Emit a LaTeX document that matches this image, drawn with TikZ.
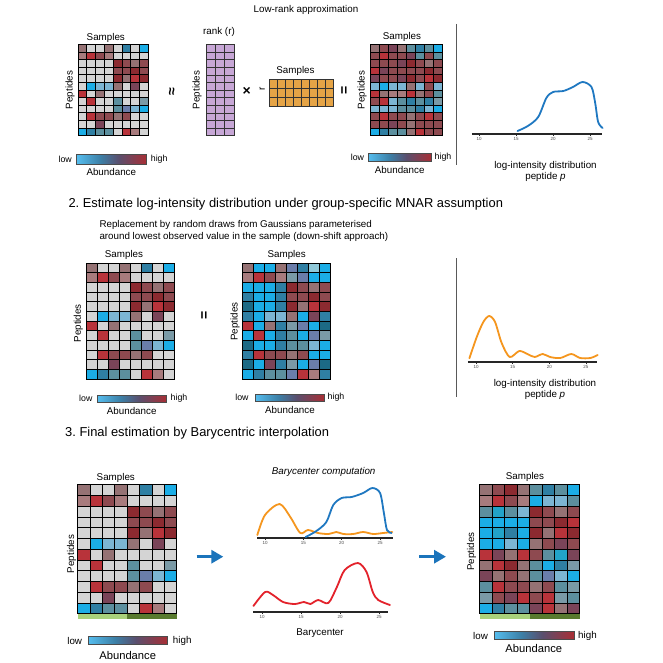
\documentclass[tikz,border=0pt]{standalone}
\usepackage{fontspec}
\setmainfont{Liberation Sans}
\usepackage{amsmath}
\usetikzlibrary{arrows.meta}
\frenchspacing

\definecolor{hmg}{HTML}{D4D4D4}
\definecolor{hma}{HTML}{957274}
\definecolor{hmb}{HTML}{A87B7D}
\definecolor{hmr}{HTML}{B8333A}
\definecolor{hmd}{HTML}{8C2A30}
\definecolor{hmm}{HTML}{8E4A50}
\definecolor{hmp}{HTML}{7A4458}
\definecolor{hmS}{HTML}{2F7FA3}
\definecolor{hmB}{HTML}{1BADE6}
\definecolor{hmL}{HTML}{7CB5D3}
\definecolor{hmT}{HTML}{5C8F9E}
\definecolor{hmG}{HTML}{7A9AA6}
\definecolor{hmV}{HTML}{6A7DAA}
\definecolor{hmD}{HTML}{1C6A85}
\definecolor{hmC}{HTML}{22A3C8}
\definecolor{hmK}{HTML}{8FC8D8}
\definecolor{rankfill}{HTML}{C7A7D6}
\definecolor{ordfill}{HTML}{E6A446}
\definecolor{curveblue}{HTML}{1F78C1}
\definecolor{curveorange}{HTML}{F5961E}
\definecolor{curvered}{HTML}{E3222B}
\definecolor{arrowblue}{HTML}{1B74BB}
\definecolor{grplight}{HTML}{A9D17B}
\definecolor{grpdark}{HTML}{587A2E}
\definecolor{cbA}{HTML}{55BDEE}
\definecolor{cbB}{HTML}{3C7FA6}
\definecolor{cbC}{HTML}{5A4F6E}
\definecolor{cbD}{HTML}{A92E34}

\pgfdeclarehorizontalshading{abundance}{100bp}{color(0bp)=(cbA); color(25bp)=(cbA); color(42bp)=(cbB); color(55bp)=(cbC); color(75bp)=(cbD); color(100bp)=(cbD)}

\newcommand{\hmap}[5]{%
    \foreach \row [count=\i] in {#5}
        \foreach \c [count=\j] in \row
            \filldraw[hmcell, fill=hm\c] ({#1+(\j-1)*#3}, {#2+(\i-1)*#4}) rectangle ++(#3, #4);%
}
\newcommand{\abar}[4]{%
    \shade[shading=abundance] (#1, #2) rectangle ++(#3, #4);
    \draw[cbframe] (#1, #2) rectangle ++(#3, #4);%
}

\tikzset{
    hmcell/.style={draw=black, line width=0.9pt},
    rankcell/.style={fill=rankfill, draw=black!80, line width=0.7pt},
    ordcell/.style={fill=ordfill, draw=black!80, line width=0.7pt},
    cbframe/.style={draw=black!70, line width=0.5pt},
    lbl/.style={font=\fontsize{9.8}{11}\selectfont, inner sep=0pt},
    lblbig/.style={font=\fontsize{11.2}{13}\selectfont, inner sep=0pt},
    lblsm/.style={font=\fontsize{8.8}{10}\selectfont, inner sep=0pt},
    opsym/.style={font=\fontsize{14}{16}\selectfont\bfseries, inner sep=0pt},
    head/.style={font=\fontsize{12.9}{15}\selectfont, inner sep=0pt, anchor=west},
    ticklab/.style={font=\fontsize{4.5}{5}\selectfont, text=black!70, inner sep=1pt},
    axisline/.style={draw=black!85, line width=1.1pt},
    sepline/.style={draw=black!65, line width=0.9pt},
    curve/.style={line width=1.8pt, line join=round, line cap=round},
    bigarrow/.style={draw=arrowblue, line width=3pt, -{Triangle[length=12pt, width=13pt]}}
}

\begin{document}
\begin{tikzpicture}[x=1pt, y=-1pt]
    \fill[white] (0,0) rectangle (663,663);
    \useasboundingbox (0,0) rectangle (663,663);

    \node[lbl] (lowrank) at (306,10) {Low-rank approximation};
    \draw[sepline] (456.7,24) -- (456.7,165);

    \node[lbl] (smp1) at (105.8,37.7) {Samples};
    \node[lbl, rotate=90] (pep1) at (70,90) {Peptides};
    \hmap{78}{44.5}{8.8}{7.6}{{a,g,g,a,g,S,g,B},{b,r,m,b,g,g,g,g},{g,g,g,g,d,m,a,m},{g,g,g,g,m,m,d,m},{g,g,g,g,d,a,r,d},{g,B,L,L,a,g,p,g},{r,g,a,g,g,g,g,g},{g,r,g,g,T,g,g,G},{g,g,g,g,T,V,L,B},{g,r,m,m,a,m,g,g},{g,g,p,g,g,g,g,g},{B,S,T,T,g,r,b,g}}
    \abar{76.7}{154.3}{70}{9.7}
    \node[lblsm, anchor=east] (low1) at (72,159) {low};
    \node[lblsm, anchor=west] (high1) at (150.7,159) {high};
    \node[lbl] (abd1) at (111.3,171.7) {Abundance};

    \node[opsym, rotate=90] (approx) at (172.7,92) {≈};

    \node[lbl] (rank) at (219,32.3) {rank (r)};
    \node[lbl, rotate=90] (pep2) at (197,90) {Peptides};
    \foreach \i in {0,...,11}
        \foreach \j in {0,1,2}
            \filldraw[rankcell] ({206+\j*9.33},{44.5+\i*7.6}) rectangle ++(9.33,7.6);

    \node[opsym] (times) at (246.7,91) {×};
    \node[lbl, rotate=90] (rr) at (262.3,89) {r};
    \node[lbl] (smp2) at (295.5,71) {Samples};
    \foreach \i in {0,1,2}
        \foreach \j in {0,...,7}
            \filldraw[ordcell] ({269+\j*8},{79+\i*9.23}) rectangle ++(8,9.23);

    \node[opsym, rotate=90] (eq1) at (345,90) {=};

    \node[lbl] (smp3) at (402,37) {Samples};
    \node[lbl, rotate=90] (pep3) at (362,90) {Peptides};
    \hmap{370}{44.5}{9}{7.6}{{a,m,p,a,T,S,T,B},{m,r,m,m,p,T,m,T},{m,m,m,p,d,m,a,m},{r,p,m,m,m,m,d,m},{p,m,m,p,d,m,r,d},{L,B,L,L,a,L,m,L},{r,a,b,b,r,a,m,T},{m,r,L,T,S,T,S,G},{L,L,L,T,T,S,L,B},{m,r,m,m,a,m,r,m},{m,m,p,m,a,m,m,m},{B,S,T,T,a,r,m,m}}
    \abar{368.3}{153.3}{63.4}{8.4}
    \node[lblsm] (low2) at (357.5,157) {low};
    \node[lblsm] (high2) at (443,157) {high};
    \node[lbl] (abd2) at (399.7,170) {Abundance};

    \begin{scope}[shift={(405,134)}, x=7.4pt, y=1pt]
        \draw[axisline] (9.05,0) -- (26.6,0);
        \foreach \t in {10,15,20,25}
            \draw[axisline, line width=0.6pt] (\t,0) -- (\t,-2) node[ticklab, below] (ta\t) {\t};
        \draw[curve, curveblue] plot[smooth] coordinates {(15.2,3) (16.6,8) (18,17) (19.1,36) (20,42) (21.4,43) (22.7,47) (24,52) (25.2,47) (25.7,31) (26.1,12) (26.7,6)};
    \end{scope}
    \node[lbl] (lid1) at (545.5,165.7) {log-intensity distribution};
    \node[lbl] (pp1) at (545.5,176.5) {peptide \textit{p}};

    \node[head] (step2) at (68.3,204) {2. Estimate log-intensity distribution under group-specific MNAR assumption};
    \node[lbl, anchor=west] (repl1) at (99.3,225) {Replacement by random draws from Gaussians parameterised};
    \node[lbl, anchor=west] (repl2) at (99.3,236.7) {around lowest observed value in the sample (down-shift approach)};
    \draw[sepline] (456.7,258) -- (456.7,397);

    \node[lbl] (smp4) at (124,255) {Samples};
    \node[lbl, rotate=90] (pep4) at (78.3,323.3) {Peptides};
    \hmap{86}{263}{11}{9.67}{{a,g,g,a,g,S,g,B},{b,r,m,b,g,g,g,g},{g,g,g,g,d,m,a,m},{g,g,g,g,m,m,d,m},{g,g,g,g,d,a,r,d},{g,B,L,L,a,g,p,g},{r,g,a,g,g,g,g,g},{g,r,g,g,T,g,g,G},{g,g,g,g,T,V,L,B},{g,r,m,m,a,m,g,g},{g,g,p,g,g,g,g,g},{B,S,T,T,g,r,b,g}}
    \abar{97.3}{395}{69.4}{7.7}
    \node[lblsm] (low3) at (85.8,398.3) {low};
    \node[lblsm] (high3) at (179,398.3) {high};
    \node[lbl] (abd3) at (131.7,410.7) {Abundance};

    \node[opsym, rotate=90] (eq2) at (205,315) {=};

    \node[lbl] (smp5) at (286.7,255) {Samples};
    \node[lbl, rotate=90] (pep5) at (235,321.7) {Peptides};
    \hmap{242}{263}{11}{9.67}{{a,B,B,a,V,S,K,B},{b,r,m,b,G,V,B,B},{B,B,B,S,d,m,a,m},{S,B,B,S,m,m,d,m},{D,B,B,S,d,a,r,d},{S,B,L,L,a,B,p,S},{r,B,a,S,G,V,B,D},{B,r,B,S,T,B,V,G},{D,B,B,S,T,T,L,B},{S,r,m,m,a,m,B,B},{D,B,p,S,G,B,V,D},{B,S,T,T,V,r,b,S}}
    \abar{255}{394}{69.4}{7.7}
    \node[lblsm] (low4) at (242,397.3) {low};
    \node[lblsm] (high4) at (336,397.3) {high};
    \node[lbl] (abd4) at (290,409.5) {Abundance};

    \begin{scope}[shift={(402.7,362)}, x=7.33pt, y=1pt]
        \draw[axisline] (8.9,0) -- (26.5,0);
        \foreach \t in {10,15,20,25}
            \draw[axisline, line width=0.6pt] (\t,0) -- (\t,-2) node[ticklab, below] (tb\t) {\t};
        \draw[curve, curveorange] plot[smooth] coordinates {(9.1,3.7) (10.1,25) (11,40) (11.8,46) (12.6,40) (13.5,19) (14.6,5) (15.9,11) (17,8) (18,5) (19.1,8) (20.1,5) (21.5,4) (23,8) (24.2,4) (25.6,4) (26.6,7)};
    \end{scope}
    \node[lbl] (lid2) at (545,384) {log-intensity distribution};
    \node[lbl] (pp2) at (545,395) {peptide \textit{p}};

    \node[head] (step3) at (65,432.7) {3. Final estimation by Barycentric interpolation};

    \node[lbl] (smp6) at (115.8,478.3) {Samples};
    \node[lbl, rotate=90] (pep6) at (71.7,554) {Peptides};
    \hmap{77.7}{484.7}{12.4}{10.75}{{a,g,g,a,g,S,g,B},{b,r,m,b,g,g,g,g},{g,g,g,g,d,m,a,m},{g,g,g,g,m,m,d,m},{g,g,g,g,d,a,r,d},{g,B,L,L,a,g,p,g},{r,g,a,g,g,g,g,g},{g,r,g,g,T,g,g,G},{g,g,g,g,T,V,L,B},{g,r,m,m,a,m,g,g},{g,g,p,g,g,g,g,g},{B,S,T,T,g,r,b,g}}
    \fill[grplight] (77.7,613.7) rectangle ++(49.6,5);
    \fill[grpdark] (127.3,613.7) rectangle ++(49.6,5);
    \abar{88.3}{636.7}{79.4}{7.6}
    \node[lbl] (low5) at (74.7,640.5) {low};
    \node[lbl] (high5) at (182.2,640.5) {high};
    \node[lblbig] (abd5) at (127.7,655) {Abundance};

    \coordinate (arr1s) at (196.7,556.7);
    \coordinate (arr1e) at (223.3,556.7);
    \draw[bigarrow] (arr1s) -- (arr1e);

    \node[lbl, font=\fontsize{9.8}{11}\selectfont\itshape] (bcomp) at (323.7,471.7) {Barycenter computation};
    \begin{scope}[shift={(188.3,538)}, x=7.67pt, y=1pt]
        \draw[axisline] (9,0) -- (26.7,0);
        \foreach \t in {10,15,20,25}
            \draw[axisline, line width=0.6pt] (\t,0) -- (\t,-2) node[ticklab, below] (tc\t) {\t};
        \draw[curve, curveorange] plot[smooth] coordinates {(9,3) (10,23) (11.9,34) (13.3,21) (14.6,5) (15.6,8) (16.9,5) (18.3,4) (19.3,6) (20.2,4) (21.5,4) (22.8,6) (24.1,4) (25.4,5) (26.6,6)};
        \draw[curve, curveblue] plot[smooth] coordinates {(15.3,1) (16.7,7) (18,16) (18.9,33) (20,40) (21.3,41) (22.8,45) (24,50) (25,45) (25.5,25) (25.9,8) (26.5,5)};
    \end{scope}
    \begin{scope}[shift={(184,612)}, x=7.8pt, y=1pt]
        \draw[axisline] (8.85,0) -- (26.1,0);
        \foreach \t in {10,15,20,25}
            \draw[axisline, line width=0.6pt] (\t,0) -- (\t,-2) node[ticklab, below] (td\t) {\t};
        \draw[curve, curvered] plot[smooth] coordinates {(8.9,6) (10.4,20) (11.4,17) (12.7,10) (14.2,8) (15.4,10) (16.2,8) (17.2,12) (18.5,9) (19.6,25) (20.6,42) (22.3,49) (23.4,40) (24.2,20) (24.9,12) (26.4,7)};
    \end{scope}
    \node[lbl] (bary) at (320,633.3) {Barycenter};

    \coordinate (arr2s) at (419.3,556.7);
    \coordinate (arr2e) at (446,556.7);
    \draw[bigarrow] (arr2s) -- (arr2e);

    \node[lbl] (smp7) at (525,477.3) {Samples};
    \node[lbl, rotate=90] (pep7) at (471.7,551.7) {Peptides};
    \hmap{479.7}{484.7}{12.5}{10.75}{{a,m,d,a,T,S,T,B},{b,r,m,b,B,L,L,T},{T,C,T,L,d,m,a,m},{B,B,B,B,m,m,d,r},{B,C,S,B,d,a,r,d},{B,B,L,B,a,m,p,m},{r,p,a,r,m,T,C,p},{a,r,d,a,T,B,S,G},{p,a,m,a,T,V,L,B},{T,r,m,m,a,m,T,G},{G,m,p,r,m,r,G,T},{B,S,T,T,p,r,a,p}}
    \fill[grplight] (479.7,613.7) rectangle ++(50,5);
    \fill[grpdark] (529.7,613.7) rectangle ++(50,5);
    \abar{494.3}{631.7}{79.7}{7.6}
    \node[lbl] (low6) at (480.5,635.5) {low};
    \node[lbl] (high6) at (587.5,635.5) {high};
    \node[lblbig] (abd6) at (533.8,648.3) {Abundance};
\end{tikzpicture}
\end{document}
